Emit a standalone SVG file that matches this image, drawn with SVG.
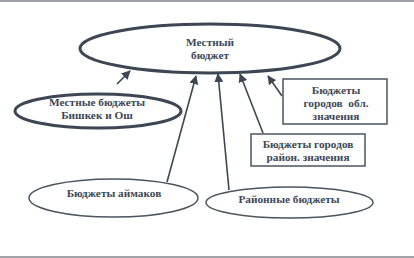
<svg xmlns="http://www.w3.org/2000/svg" width="414" height="258" viewBox="0 0 414 258">
<defs>
<marker id="ah" viewBox="0 0 10 10" refX="9" refY="5" markerWidth="9" markerHeight="9" markerUnits="userSpaceOnUse" orient="auto">
<path d="M0,0 L10,5 L0,10 z" fill="#3d4754"/>
</marker>
<style>
.t{font-family:'Liberation Serif','Times New Roman',serif;font-weight:bold;font-size:11.3px;fill:#3d4754;text-anchor:middle}
.thick{fill:#fff;stroke:#3d4754;stroke-width:3}
.thin{fill:#fff;stroke:#4a5560;stroke-width:1.5}
.c{stroke:#3d4754;stroke-width:1.6;fill:none;marker-end:url(#ah)}
</style>
</defs>
<rect x="0" y="0" width="414" height="258" fill="#fff"/>
<rect x="0" y="0" width="414" height="2" fill="#9aa0a6"/>
<rect x="0" y="256" width="414" height="2" fill="#a0a4a8"/>
<g id="connectors">
<line class="c" x1="117" y1="84" x2="130" y2="71"/>
<line class="c" x1="167" y1="182" x2="196" y2="76"/>
<line class="c" x1="229" y1="190" x2="218" y2="74"/>
<line class="c" x1="263" y1="133" x2="240" y2="74"/>
<line class="c" x1="282" y1="96" x2="268" y2="76"/>
</g>
<g id="main">
<ellipse class="thick" cx="210" cy="48.5" rx="130" ry="24.5"/>
<text class="t" x="210" y="46">Местный</text>
<text class="t" x="210" y="59">бюджет</text>
</g>
<g id="bishkek">
<ellipse class="thick" cx="98" cy="111" rx="83" ry="17"/>
<text class="t" x="97" y="106">Местные бюджеты</text>
<text class="t" x="97" y="119">Бишкек и Ош</text>
</g>
<g id="obl">
<rect class="thin" x="283" y="79" width="104" height="45"/>
<text class="t" x="336" y="94">Бюджеты</text>
<text class="t" x="336" y="107" xml:space="preserve">городов  обл.</text>
<text class="t" x="336" y="120">значения</text>
</g>
<g id="raion">
<rect class="thin" x="251" y="134" width="114" height="32"/>
<text class="t" x="308" y="148">Бюджеты городов</text>
<text class="t" x="308" y="161">район. значения</text>
</g>
<g id="aimak">
<ellipse class="thin" cx="113.5" cy="198" rx="84.5" ry="19"/>
<text class="t" x="114" y="197">Бюджеты аймаков</text>
</g>
<g id="district">
<ellipse class="thin" cx="289.5" cy="202.5" rx="83.5" ry="15.5"/>
<text class="t" x="289" y="203">Районные бюджеты</text>
</g>
</svg>
